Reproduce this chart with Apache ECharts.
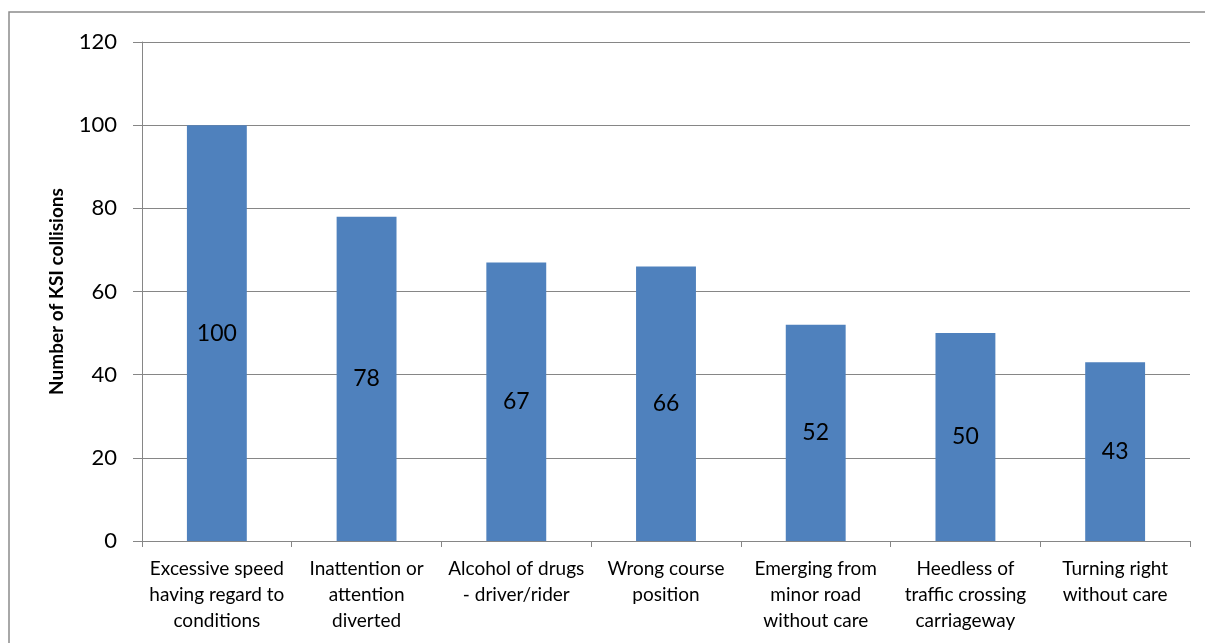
<!DOCTYPE html>
<html>
<head>
<meta charset="utf-8">
<script src="https://cdn.jsdelivr.net/npm/echarts@6/dist/echarts.min.js"></script>
<style>
html,body{margin:0;padding:0;background:#fff;}
#chart{width:1205px;height:643px;}
</style>
</head>
<body>
<div id="chart"></div>
<script>
const categories = [
  "Excessive speed\nhaving regard to\nconditions",
  "Inattention or\nattention\ndiverted",
  "Alcohol of drugs\n- driver/rider",
  "Wrong course\nposition",
  "Emerging from\nminor road\nwithout care",
  "Heedless of\ntraffic crossing\ncarriageway",
  "Turning right\nwithout care"
];
const values = [100, 78, 67, 66, 52, 50, 43];
const yTicks = { min: 0, max: 120, interval: 20 };
const yTitle = "Number of KSI collisions";

const font = "Lato, 'Open Sans', sans-serif";
const chart = echarts.init(document.getElementById('chart'));
chart.setOption({
  backgroundColor: '#fff',
  animation: false,
  graphic: [{
    type: 'rect',
    shape: { x: 9, y: 12, width: 1300, height: 700 },
    style: { fill: 'none', stroke: '#8c8c8c', lineWidth: 1.5 },
    silent: true
  }],
  grid: { left: 142, right: 15, top: 42, bottom: 102 },
  xAxis: {
    type: 'category',
    data: categories,
    axisLine: { lineStyle: { color: '#868686', width: 1 } },
    axisTick: { show: true, length: 6, lineStyle: { color: '#868686' } },
    axisLabel: { color: '#000', fontFamily: font, fontSize: 19, lineHeight: 26, margin: 15, interval: 0 }
  },
  yAxis: {
    type: 'value',
    min: yTicks.min, max: yTicks.max, interval: yTicks.interval,
    name: yTitle,
    nameLocation: 'middle',
    nameGap: 76,
    nameTextStyle: { color: '#000', fontFamily: font, fontSize: 19, fontWeight: 'bold' },
    axisLine: { show: true, lineStyle: { color: '#868686', width: 1 } },
    axisTick: { show: true, length: 9, lineStyle: { color: '#868686' } },
    axisLabel: { color: '#000', fontFamily: font, fontSize: 22, margin: 25 },
    splitLine: { lineStyle: { color: '#868686', width: 1 } }
  },
  series: [{
    type: 'bar',
    data: values,
    barWidth: '40%',
    itemStyle: { color: '#4F81BD' },
    label: { show: true, position: 'inside', color: '#000', fontFamily: font, fontSize: 23 }
  }]
});
</script>
</body>
</html>
